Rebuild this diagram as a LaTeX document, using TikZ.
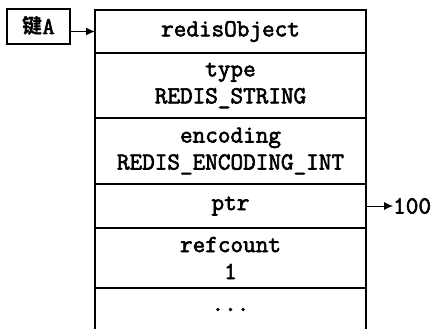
\documentclass[tikz,border=0pt]{standalone}
\usepackage{fontspec}
\setmonofont{Latin Modern Mono}[FakeBold=2.5]
\newfontfamily\cjk{Noto Sans CJK SC}
\usetikzlibrary{arrows.meta,positioning}

\begin{document}
\begin{tikzpicture}[x=1pt, y=-1pt, every node/.style={font=\ttfamily\fontsize{24.5}{27}\selectfont},
	field/.style={draw, line width=2.6pt, minimum width=271pt, outer sep=0pt, inner sep=0pt, align=center},
	>={Latex[length=9pt,width=8pt]}]
	\useasboundingbox (0,0) rectangle (432,329);
	\clip (0,0) rectangle (432,329);
	\node[draw, line width=2pt, minimum width=63pt, minimum height=35pt, inner sep=0pt, font=\ttfamily\fontsize{24}{24}\selectfont] (key) at (38.5,26.5) {{\cjk\bfseries\fontsize{20}{24}\selectfont 键}A};
	\node[field, minimum height=43pt, anchor=north west] (obj) at (95,10) {redisObject};
	\node[field, minimum height=65pt, below=0pt of obj] (type) {type\\REDIS\_STRING};
	\node[field, minimum height=66pt, below=0pt of type] (enc) {encoding\\REDIS\_ENCODING\_INT};
	\node[field, minimum height=44pt, below=0pt of enc] (ptr) {ptr};
	\node[field, minimum height=60pt, below=0pt of ptr] (ref) {refcount\\1};
	\node[field, minimum height=60pt, below=0pt of ref, text depth=17pt] (more) {...};
	\node[anchor=west, inner sep=0pt] (val) at (393,206) {100};
	\draw[->, line width=1.2pt] (key.east |- obj.west) -- (obj.west);
	\draw[->, line width=0.8pt] (ptr.east) -- (val.west);
\end{tikzpicture}
\end{document}
